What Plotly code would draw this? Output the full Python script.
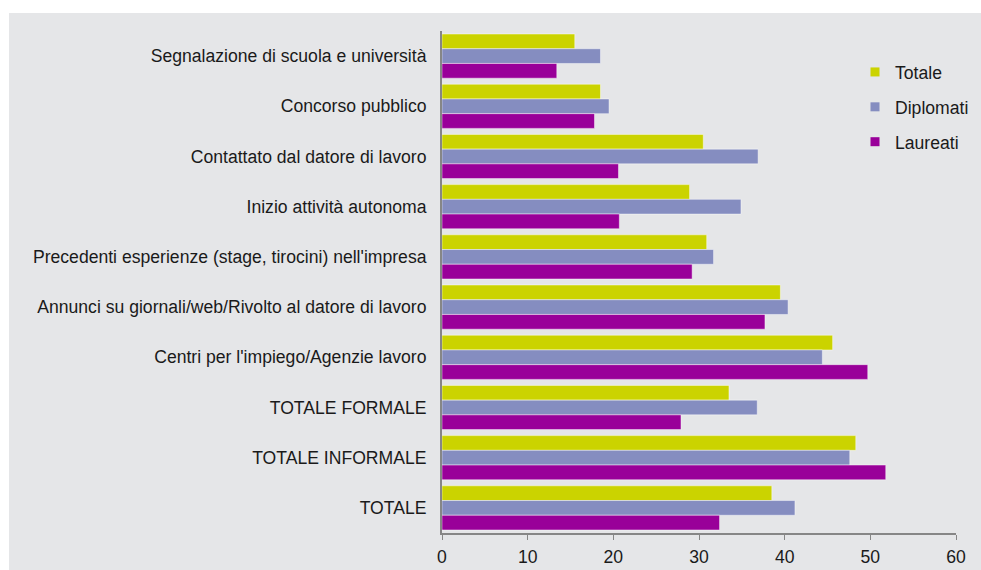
import plotly.graph_objects as go

# Canali di ingresso nel lavoro (valori percentuali)
categories = [
    "Segnalazione di scuola e università",
    "Concorso pubblico",
    "Contattato dal datore di lavoro",
    "Inizio attività autonoma",
    "Precedenti esperienze (stage, tirocini) nell'impresa",
    "Annunci su giornali/web/Rivolto al datore di lavoro",
    "Centri per l'impiego/Agenzie lavoro",
    "TOTALE FORMALE",
    "TOTALE INFORMALE",
    "TOTALE",
]
totale = [15.5, 18.5, 30.5, 28.9, 30.9, 39.5, 45.6, 33.5, 48.3, 38.5]
diplomati = [18.5, 19.5, 36.9, 34.9, 31.7, 40.4, 44.4, 36.8, 47.6, 41.2]
laureati = [13.4, 17.8, 20.6, 20.7, 29.2, 37.7, 49.7, 27.9, 51.8, 32.4]
x_ticks = [0, 10, 20, 30, 40, 50, 60]

series = [
    ("Totale", totale, "#cbd300"),
    ("Diplomati", diplomati, "#858dc0"),
    ("Laureati", laureati, "#990099"),
]

FONT = "Liberation Sans, Arial, sans-serif"
FS = 17.6
TEXT = "#1a1a1a"
AXIS = "#868686"
PANEL = "#e5e6e8"

fig = go.Figure()
for name, values, color in series:
    fig.add_trace(go.Bar(
        y=categories, x=values, orientation="h", name=name,
        marker=dict(color=color, line=dict(color="rgba(255,255,255,0.45)", width=1)),
        showlegend=False,
    ))

# legend entries with small square swatches
for i, (name, values, color) in enumerate(series):
    fig.add_trace(go.Scatter(
        x=[None], y=[None], mode="markers", name=name,
        marker=dict(symbol="square", size=9, color=color),
        legendgroup=f"g{i}", showlegend=True,
    ))

W, H = 981, 570
L, R, T, B = 442, 25, 31, 37
pw, ph = W - L - R, H - T - B

def px_x(p):
    return (p - L) / pw

def px_y(p):
    return (H - B - p) / ph

# gray panel everywhere except a thin white strip along the top and left edges
fig.add_shape(type="rect", xref="paper", yref="paper", layer="below",
              x0=px_x(-5), x1=px_x(W + 5), y0=px_y(13), y1=px_y(-5),
              fillcolor="white", line=dict(width=0))
fig.add_shape(type="rect", xref="paper", yref="paper", layer="below",
              x0=px_x(-5), x1=px_x(9), y0=px_y(H + 5), y1=px_y(-5),
              fillcolor="white", line=dict(width=0))

fig.update_layout(
    width=W, height=H, autosize=False,
    margin=dict(l=L, r=R, t=T, b=B, pad=0, autoexpand=False),
    paper_bgcolor=PANEL,
    plot_bgcolor="rgba(0,0,0,0)",
    barmode="group",
    bargap=0.12,
    bargroupgap=0,
    font=dict(family=FONT, size=FS, color=TEXT),
    legend=dict(
        xref="container", yref="container",
        x=855 / W, y=1 - 54 / H, xanchor="left", yanchor="top",
        bgcolor="rgba(0,0,0,0)", font=dict(size=FS, color=TEXT),
        traceorder="grouped", tracegroupgap=9, itemwidth=30,
    ),
    xaxis=dict(
        range=[0, 60], tickvals=x_ticks, showgrid=False, zeroline=False,
        showline=True, linecolor=AXIS, linewidth=2, automargin=False,
        ticks="outside", ticklen=5, tickwidth=1, tickcolor=AXIS,
        ticklabelstandoff=2,
        tickfont=dict(size=FS, color=TEXT), fixedrange=True,
    ),
    yaxis=dict(
        autorange="reversed", showgrid=False, zeroline=False,
        showline=True, linecolor=AXIS, linewidth=2, automargin=False,
        ticks="", ticklabelstandoff=10,
        tickfont=dict(size=FS, color=TEXT), fixedrange=True,
    ),
)

fig.write_html("out.html", config={"displayModeBar": False})
